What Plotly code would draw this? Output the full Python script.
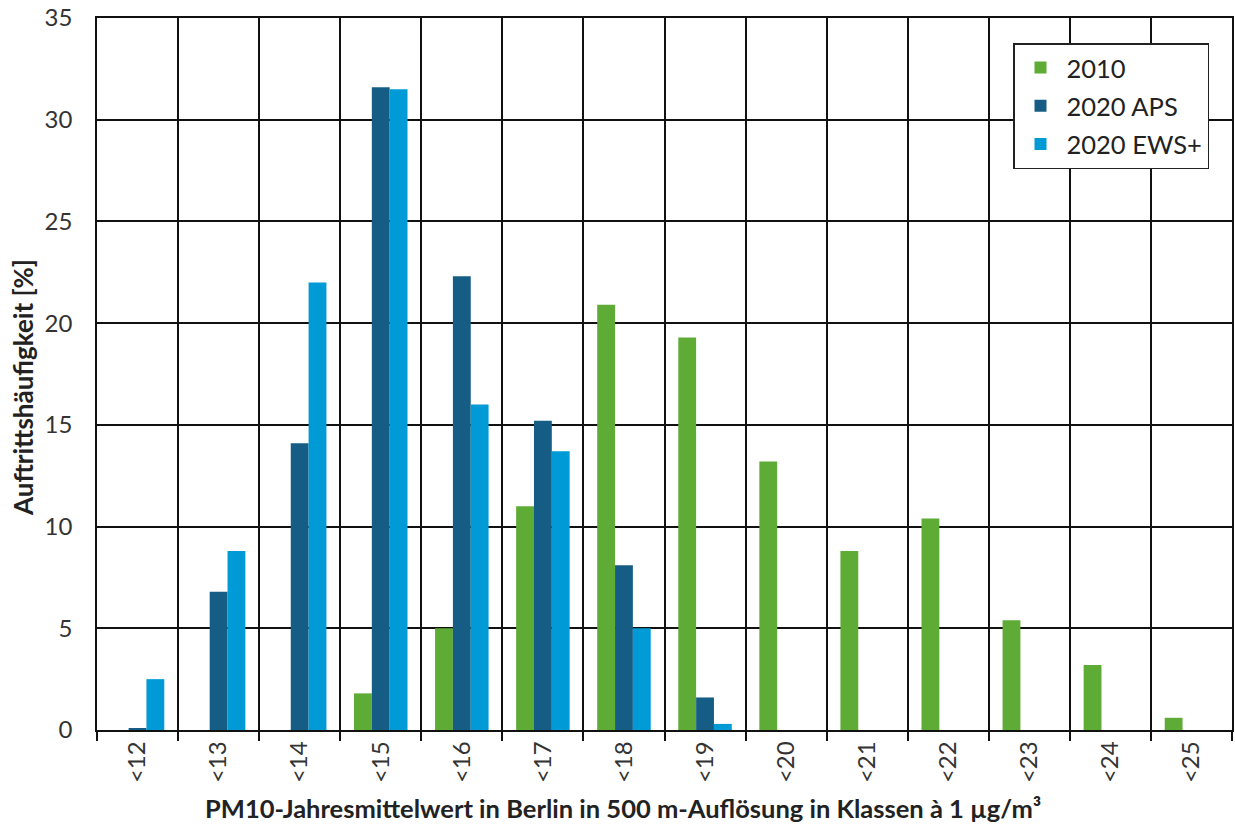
import plotly.graph_objects as go

categories = ["<12", "<13", "<14", "<15", "<16", "<17", "<18", "<19", "<20", "<21", "<22", "<23", "<24", "<25"]
s2010 = [0, 0, 0, 1.8, 5.0, 11.0, 20.9, 19.3, 13.2, 8.8, 10.4, 5.4, 3.2, 0.6]
s2020_aps = [0.1, 6.8, 14.1, 31.6, 22.3, 15.2, 8.1, 1.6, 0, 0, 0, 0, 0, 0]
s2020_ews = [2.5, 8.8, 22.0, 31.5, 16.0, 13.7, 5.0, 0.3, 0, 0, 0, 0, 0, 0]
y_ticks = [0, 5, 10, 15, 20, 25, 30, 35]

FONT = "Lato"
fig = go.Figure()
for name, vals, col, g in [("2010", s2010, "#5EAB36", "a"),
                           ("2020 APS", s2020_aps, "#165D86", "b"),
                           ("2020 EWS+", s2020_ews, "#009BD6", "c")]:
    fig.add_trace(go.Bar(x=categories, y=vals, name=name, marker_color=col,
                         marker_line_width=0, legendgroup=g))

fig.update_layout(
    width=1235, height=825,
    margin=dict(l=97, r=3, t=18, b=95, autoexpand=False),
    paper_bgcolor="white", plot_bgcolor="white",
    barmode="group", bargap=0.34, bargroupgap=0,
    font=dict(family=FONT, color="#222222"),
    showlegend=True,
    legend=dict(x=(1013-97)/1135, y=(730-43)/712, xanchor="left", yanchor="top",
                bordercolor="#222222", borderwidth=1.5, bgcolor="white",
                font=dict(size=25.5, family=FONT, color="#222222"), traceorder="grouped",
                tracegroupgap=2, itemwidth=42),
)
fig.update_xaxes(
    type="category", tickson="boundaries", showgrid=True, gridcolor="#111111",
    gridwidth=1.5, showline=True, linecolor="#111111", linewidth=1.5, mirror=True,
    ticks="outside", ticklen=9, tickcolor="#111111", tickwidth=1.5, automargin=False,
    tickangle=-90, tickfont=dict(size=24, family=FONT, color="#333333"),
)
fig.update_yaxes(
    range=[0, 35], tickvals=y_ticks, showgrid=True, gridcolor="#111111", gridwidth=1.5,
    showline=True, linecolor="#111111", linewidth=1.5, mirror=True, automargin=False,
    ticks="", ticklabelstandoff=18, ticklabeloverflow="allow",
    tickfont=dict(size=24, family=FONT, color="#333333"),
    zeroline=False,
)
fig.add_annotation(text="<b>PM10-Jahresmittelwert in Berlin in 500 m-Auflösung in Klassen à 1 µg/m³</b>",
                   xref="paper", yref="paper", x=(623-97)/1135, y=-78/712,
                   showarrow=False, font=dict(size=25.5, family=FONT, color="#222222"),
                   xanchor="center", yanchor="middle")
fig.add_annotation(text="<b>Auftrittshäufigkeit [%]</b>",
                   xref="paper", yref="paper", x=(23-97)/1135, y=(730-388)/712,
                   showarrow=False, textangle=-90, font=dict(size=26, family=FONT, color="#222222"),
                   xanchor="center", yanchor="middle")
fig.write_html("out.html", config={"displayModeBar": False},
               post_script="document.body.style.margin='0';")
